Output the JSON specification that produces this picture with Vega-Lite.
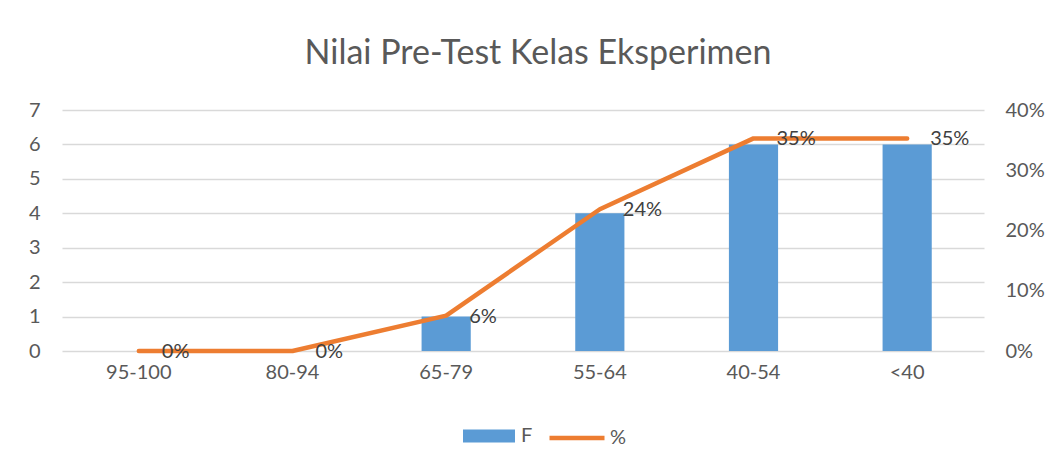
{
  "$schema": "https://vega.github.io/schema/vega-lite/v6.json",
  "autosize": {"type": "none"},
  "width": 922,
  "height": 241,
  "padding": {"left": 62, "top": 110, "right": 74, "bottom": 116},
  "background": "white",
  "config": {
    "view": {"stroke": null},
    "font": "Lato",
    "axis": {"labelFont": "Lato", "labelFontSize": 20, "labelColor": "#595959"}
  },
  "title": {
    "text": "Nilai Pre-Test Kelas Eksperimen",
    "font": "Lato",
    "fontSize": 34,
    "fontWeight": "normal",
    "color": "#595959",
    "offset": 29,
    "dx": 15
  },
  "data": {
    "values": [
      {"kelas": "95-100", "F": 0, "pct": 0},
      {"kelas": "80-94", "F": 0, "pct": 0},
      {"kelas": "65-79", "F": 1, "pct": 0.0588},
      {"kelas": "55-64", "F": 4, "pct": 0.2353},
      {"kelas": "40-54", "F": 6, "pct": 0.3529},
      {"kelas": "<40", "F": 6, "pct": 0.3529}
    ]
  },
  "encoding": {
    "x": {
      "field": "kelas",
      "type": "nominal",
      "sort": null,
      "title": null,
      "scale": {"paddingInner": 0.68, "paddingOuter": 0.34},
      "axis": {"labelAngle": 0, "domain": false, "ticks": false, "labelPadding": 11}
    }
  },
  "layer": [
    {
      "mark": {"type": "bar", "color": "#5B9BD5"},
      "encoding": {
        "y": {
          "field": "F",
          "type": "quantitative",
          "title": null,
          "scale": {"domain": [0, 7]},
          "axis": {"values": [0, 1, 2, 3, 4, 5, 6, 7], "domain": false, "ticks": false, "labelPadding": 22, "gridColor": "#D9D9D9", "gridWidth": 1.5}
        },
        "fill": {
          "datum": "F",
          "type": "nominal",
          "scale": {"range": ["#5B9BD5"]},
          "legend": {
            "title": null,
            "orient": "none",
            "legendX": 401,
            "legendY": 300,
            "symbolType": "M-1,-0.25H1V0.25H-1Z",
            "symbolSize": 2704,
            "symbolStrokeWidth": 0,
            "labelFont": "Lato",
            "labelFontSize": 20,
            "labelColor": "#595959",
            "labelOffset": 6
          }
        }
      }
    },
    {
      "layer": [
        {
          "mark": {"type": "line", "color": "#ED7D31", "strokeWidth": 4.5, "strokeCap": "round", "strokeJoin": "round"},
          "encoding": {
            "y": {
              "field": "pct",
              "type": "quantitative",
              "title": null,
              "scale": {"domain": [0, 0.4]},
              "axis": {"orient": "right", "format": ".0%", "values": [0, 0.1, 0.2, 0.3, 0.4], "domain": false, "ticks": false, "grid": false, "labelPadding": 21}
            },
            "stroke": {
              "datum": "%",
              "type": "nominal",
              "scale": {"range": ["#ED7D31"]},
              "legend": {
                "title": null,
                "orient": "none",
                "legendX": 485,
                "legendY": 298,
                "symbolType": "stroke",
                "symbolSize": 3025,
                "symbolStrokeWidth": 4.5,
                "labelFont": "Lato",
                "labelFontSize": 20,
                "labelColor": "#595959",
                "labelOffset": 3
              }
            }
          }
        },
        {
          "mark": {"type": "text", "align": "left", "baseline": "middle", "dx": 23, "dy": 1, "font": "Lato", "fontSize": 20, "color": "#404040"},
          "encoding": {
            "y": {"field": "pct", "type": "quantitative"},
            "text": {"field": "pct", "type": "quantitative", "format": ".0%"}
          }
        }
      ]
    }
  ],
  "resolve": {"scale": {"y": "independent"}, "legend": {"fill": "independent", "stroke": "independent"}}
}
